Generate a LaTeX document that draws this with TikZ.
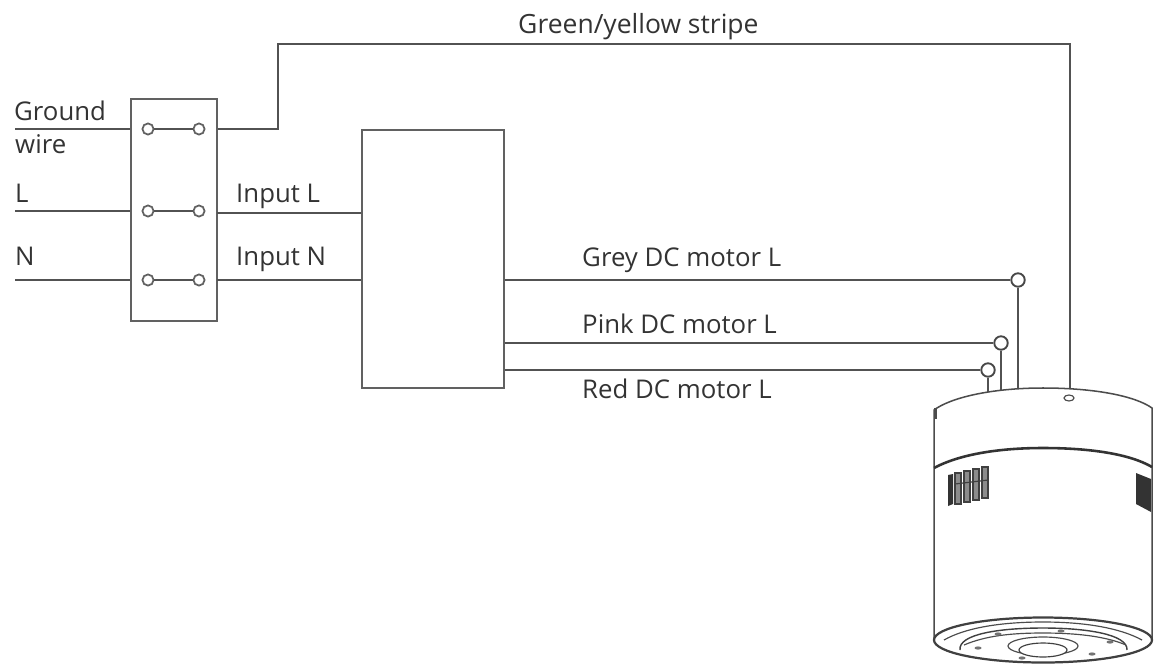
\documentclass[tikz,border=0pt]{standalone}
\usepackage{fontspec}
\setmainfont{Open Sans}
\tikzset{
  wire/.style={draw=black!68,line width=1.5pt},
  casing/.style={draw=black!70,line width=1.3pt,fill=white},
  term/.style={draw=black!62,circle,line width=1.5pt,fill=white,inner sep=0pt,minimum size=9.5pt},
  pin/.style={draw=black!72,circle,line width=1.6pt,fill=white,inner sep=0pt,minimum size=11.5pt},
  lbl/.style={anchor=base west,inner sep=0pt,text=black!80,font=\fontsize{22}{24}\selectfont},
  boxnode/.style={draw=black!62,line width=1.5pt,inner sep=0pt}
}
\begin{document}
\begin{tikzpicture}[x=0.03cm,y=-0.03cm]
\useasboundingbox (0,0) rectangle (1159,670);

\node[boxnode,minimum width=86*0.03cm,minimum height=222*0.03cm] (block) at (174,210) {};
\node[boxnode,minimum width=142*0.03cm,minimum height=258*0.03cm] (driver) at (433,259) {};

\node[term] (g1) at (148,129) {};
\node[term] (g2) at (199,129) {};
\node[term] (l1) at (148,211) {};
\node[term] (l2) at (199,211) {};
\node[term] (n1) at (148,280) {};
\node[term] (n2) at (199,280) {};

\node[pin] (grey) at (1018,280) {};
\node[pin] (pink) at (1001,343) {};
\node[pin] (red) at (988,370) {};

\coordinate (gin) at (15,129);
\coordinate (lin) at (15,211);
\coordinate (nin) at (15,280);
\coordinate (gbend1) at (278,129);
\coordinate (gbend2) at (278,44);
\coordinate (gbend3) at (1070,44);
\coordinate (gend) at (1070,388);
\coordinate (greyend) at (1018,390);
\coordinate (pinkend) at (1001,392);
\coordinate (redend) at (988,394);
\coordinate (linl) at (217,213);
\coordinate (ninl) at (217,280);

\node[lbl] (t1) at (14,120) {Ground};
\node[lbl] (t2) at (15,153) {wire};
\node[lbl] (t3) at (15,202) {L};
\node[lbl] (t4) at (15,265) {N};
\node[lbl] (t5) at (236,202) {Input L};
\node[lbl] (t6) at (236,265) {Input N};
\node[lbl,font=\fontsize{22.6}{24}\selectfont] (t7) at (518,33) {Green/yellow stripe};
\node[lbl] (t8) at (582,266) {Grey DC motor L};
\node[lbl] (t9) at (582,333) {Pink DC motor L};
\node[lbl] (t10) at (582,398) {Red DC motor L};

% wires
\path[wire] (gin) -- (gin -| block.west);
\path[wire] (lin) -- (lin -| block.west);
\path[wire] (nin) -- (nin -| block.west);
\path[wire] (g1) -- (g2);
\path[wire] (l1) -- (l2);
\path[wire] (n1) -- (n2);
\path[wire] (gbend1 -| block.east) -- (gbend1) -- (gbend2) -- (gbend3) -- (gend);
\path[wire] (linl) -- (linl -| driver.west);
\path[wire] (ninl) -- (ninl -| driver.west);
\path[wire] (grey -| driver.east) -- (grey);
\path[wire] (pink -| driver.east) -- (pink);
\path[wire] (red -| driver.east) -- (red);
\path[wire] (grey) -- (greyend);
\path[wire] (pink) -- (pinkend);
\path[wire] (red) -- (redend);

% motor
\path[casing] (934,420) -- (934,410) .. controls (950,398) and (990,388) .. (1043,388)
  .. controls (1095,388) and (1135,396) .. (1152,408)
  -- (1152,638) -- (934,638) -- cycle;
\draw[line width=2.2pt,black!80] (934,468) .. controls (960,454) and (1000,448) .. (1043,448)
  .. controls (1090,448) and (1130,454) .. (1152,467);
\draw[line width=1pt,black!70] (1069,398) ellipse (5 and 3);
\draw[line width=2.5pt,black!70] (935.5,408) -- (935.5,419);

% vents
\fill[black!80] (948,475) -- (953,474) -- (953,504) -- (948,506) -- cycle;
\foreach \vx/\vy in {955/473,964/471,973/469,982/467}
  \draw[line width=1pt,black!75,fill=black!45] (\vx,\vy) rectangle ++(6,31);
\draw[line width=1pt,black!75] (955,484) -- (988,480);
\fill[black!80] (1136,473) -- (1151,479) -- (1151,512) -- (1136,504) -- cycle;

% base
\draw[line width=1.9pt,black!75,fill=white] (1043,640) ellipse (109 and 22.5);
\draw[line width=1pt,black!70] (944,640) .. controls (965,628) and (1000,622) .. (1043,622)
  .. controls (1085,622) and (1120,628) .. (1142,640);
\draw[line width=1.2pt,black!75] (960,650) .. controls (958,634) and (1000,628) .. (1043,628)
  .. controls (1085,628) and (1128,634) .. (1127,650);
\draw[line width=1pt,black!70] (964,645) .. controls (985,636) and (1010,633) .. (1043,633)
  .. controls (1075,633) and (1105,636) .. (1126,645);
\draw[line width=1pt,black!70] (1043,646) ellipse (35 and 9);
\draw[line width=1pt,black!75,fill=white] (1043,650) ellipse (24 and 7);
\foreach \hx/\hy in {998/634,978/648,1061/631,1110/642,1092/654,1022/658}
  \fill[black!55] (\hx,\hy) ellipse (3.5 and 1.6);
\end{tikzpicture}
\end{document}
